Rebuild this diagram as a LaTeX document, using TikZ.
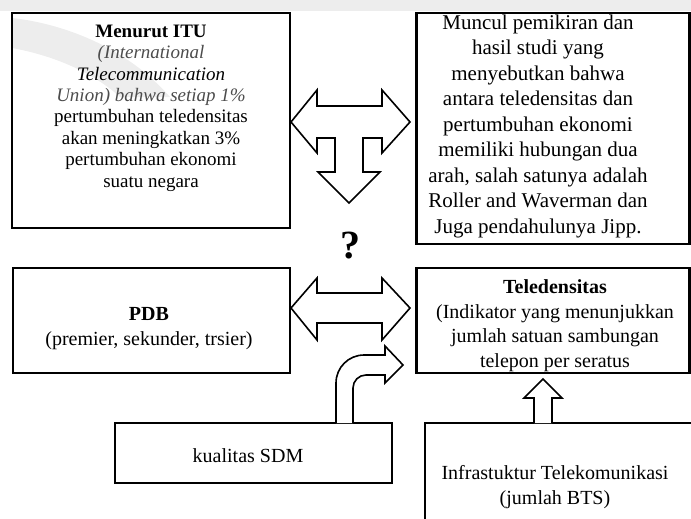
\documentclass[tikz,border=0pt]{standalone}
\usepackage{fontspec}
\setmainfont{Liberation Serif}
\tikzset{
  box/.style={draw, line width=2.6pt, inner sep=0pt},
  txt/.style={align=center, inner sep=0pt, font=\fontsize{20}{25}\selectfont},
  blockarrow/.style={draw, fill=white, line width=1.6pt, line join=miter},
  wm/.style={fill=black!7}
}
\begin{document}
\begin{tikzpicture}[x=1pt,y=-1pt]
\useasboundingbox (0,0) rectangle (691,519);

% faint background emblem
\fill[wm] (0,0) rectangle (691,11);
\fill[wm] (12,18) .. controls (50,22) and (120,40) .. (170,97)
  -- (120,97) .. controls (90,70) and (50,55) .. (12,48) -- cycle;

% boxes
\node[box, minimum width=278pt, minimum height=215pt] (itu) at (151,120.5) {};
\node[box, minimum width=273pt, minimum height=231pt] (muncul) at (553,128.5) {};
\node[box, minimum width=277pt, minimum height=105pt] (pdb) at (151.5,320.5) {};
\node[box, minimum width=273pt, minimum height=105pt] (tele) at (553,320.5) {};
\node[box, minimum width=277pt, minimum height=60pt] (sdm) at (253.5,453) {};
\node[box, minimum width=300pt, minimum height=140pt] (infra) at (575,493) {};

% texts
\node[txt, font=\fontsize{19}{21.4}\selectfont] (itutext) at (151,108)
  {\textbf{Menurut ITU}\\
   \textcolor{black!70}{\textit{(International}}\\
   \textit{Telecommunication}\\
   \textcolor{black!70}{\textit{Union) bahwa setiap 1\%}}\\
   pertumbuhan teledensitas\\
   akan meningkatkan 3\%\\
   pertumbuhan ekonomi\\
   suatu negara};
\node[txt, font=\fontsize{21}{25.5}\selectfont] (muncultext) at (538,126)
  {Muncul pemikiran dan\\
   hasil studi yang\\
   menyebutkan bahwa\\
   antara teledensitas dan\\
   pertumbuhan ekonomi\\
   memiliki hubungan dua\\
   arah, salah satunya adalah\\
   Roller and Waverman dan\\
   Juga pendahulunya Jipp.};
\node[txt] (pdbtext) at (149,328.5)
  {\textbf{PDB}\\(premier, sekunder, trsier)};
\node[txt, font=\fontsize{20}{24.5}\selectfont] (teletext) at (555,325.5)
  {\textbf{Teledensitas}\\
   (Indikator yang menunjukkan\\
   jumlah satuan sambungan\\
   telepon per seratus};
\node[txt] (sdmtext) at (248,456) {kualitas SDM};
\node[txt] (infratext) at (555,487)
  {Infrastuktur Telekomunikasi\\(jumlah BTS)};

\node[inner sep=0pt, font=\fontsize{40}{42}\selectfont\bfseries] (q) at (350,246) {?};

% two-way arrow between the upper boxes, with a branch down to the question
\draw[blockarrow] (291,122) -- (317,90) -- (317,106) -- (382,106) -- (382,90)
  -- (410,122) -- (382,153) -- (382,138) -- (363,138) -- (363,172)
  -- (380,172) -- (349,203) -- (318,172) -- (335,172) -- (335,138)
  -- (317,138) -- (317,153) -- cycle;

% two-way arrow between PDB and Teledensitas
\draw[blockarrow] (291,308) -- (317,278) -- (317,293) -- (382,293) -- (382,278)
  -- (410,308) -- (382,340) -- (382,323) -- (317,323) -- (317,340) -- cycle;

% bent arrow from kualitas SDM into Teledensitas
\draw[blockarrow] (336,423) [rounded corners=28pt] -- (336,355) [sharp corners] -- (385,355)
  -- (385,346) -- (403,365) -- (385,383) -- (385,375)
  [rounded corners=13pt] -- (353,375) [sharp corners] -- (353,423);

% arrow from the infrastructure box up to Teledensitas
\draw[blockarrow] (534,423) -- (534,398) -- (524,398) -- (543,379) -- (562,398)
  -- (552,398) -- (552,423);
\end{tikzpicture}
\end{document}
